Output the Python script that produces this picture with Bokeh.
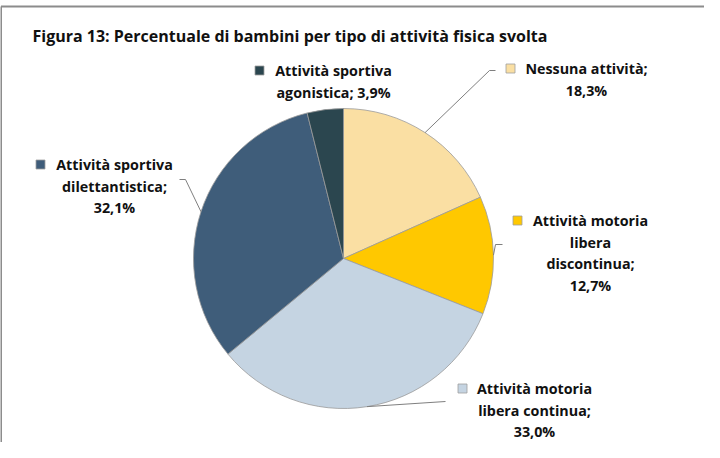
import math
from bokeh.plotting import figure
from bokeh.models import Range1d, ColumnDataSource
from bokeh.core.properties import value
from bokeh.embed import file_html
from bokeh.resources import INLINE

# ---- data ----
title_text = "Figura 13: Percentuale di bambini per tipo di attività fisica svolta"
categories = ["Nessuna attività", "Attività motoria libera discontinua",
              "Attività motoria libera continua", "Attività sportiva dilettantistica",
              "Attività sportiva agonistica"]
percent = [18.3, 12.7, 33.0, 32.1, 3.9]
colors = ["#FADFA3", "#FFC800", "#C5D4E2", "#3F5D7A", "#2B464F"]
# label line wrapping (as in the original)
label_lines = [
    ["Nessuna attività;", "{v}"],
    ["Attività motoria", "libera", "discontinua;", "{v}"],
    ["Attività motoria", "libera continua;", "{v}"],
    ["Attività sportiva", "dilettantistica;", "{v}"],
    ["Attività sportiva", "agonistica; {v}"],
]

# ---- layout (page pixel coordinates) ----
W, H = 704, 442
PAGE_H = 458
cx, cy, R = 351, 266, 150
FONT = value("Open Sans")
LBL_SIZE = "14.3px"
LINE_H = 21.5
# label anchor: (center x of text lines, y of first line, marker center x)
label_pos = [
    (594, 76, 518),
    (598, 228, 525),
    (542, 396, 470),
    (122, 172, 48),
    (341, 78, 267),
]
# leader lines: (elbow point, end point) in page coords, None = no leader
leaders = [
    ((497, 78), (503, 78)),
    ((503, 252), (510, 252)),
    ((453, 409), (453, 409)),
    ((193, 187), (187, 187)),
    None,
]


def Y(py):
    return PAGE_H - py


p = figure(width=W, height=H, x_range=Range1d(8, 8 + W), y_range=Range1d(PAGE_H - 8 - H, PAGE_H - 8),
           output_backend="svg", toolbar_location=None,
           x_axis_location=None, y_axis_location=None, min_border=0)
p.grid.visible = False
p.outline_line_color = None
p.background_fill_color = "white"
p.border_fill_color = "white"

# frame border
p.line([8.5, 8.5], [Y(14), Y(460)], line_color="#8C8C8C", line_width=2)
p.line([8.5, 720], [Y(14), Y(14)], line_color="#8C8C8C", line_width=2)

# title
p.text(x=[40], y=[Y(43)], text=[title_text], text_font=FONT, text_font_style="bold",
       text_font_size="16px", text_baseline="middle", text_align="left", text_color="#111111")

# pie wedges (clockwise from 12 o'clock)
total = sum(percent)
starts, ends, mids = [], [], []
cum = 0.0
for v in percent:
    a0 = math.pi / 2 - 2 * math.pi * (cum + v) / total
    a1 = math.pi / 2 - 2 * math.pi * cum / total
    starts.append(a0)
    ends.append(a1)
    mids.append((a0 + a1) / 2)
    cum += v
src = ColumnDataSource(dict(x=[cx] * len(percent), y=[Y(cy)] * len(percent),
                            s=starts, e=ends, c=colors))
p.wedge(x="x", y="y", radius=R, start_angle="s", end_angle="e", fill_color="c",
        line_color="#9A9A9A", line_width=0.8, source=src)

# leader lines
for i, ld in enumerate(leaders):
    if ld is None:
        continue
    sx = cx + R * math.cos(mids[i])
    sy = Y(cy) + R * math.sin(mids[i])
    (ex, ey), (fx, fy) = ld
    p.line([sx, ex, fx], [sy, Y(ey), Y(fy)], line_color="#7F7F7F", line_width=1)

# labels
for i, lines in enumerate(label_lines):
    vtxt = f"{percent[i]:.1f}".replace(".", ",") + "%"
    tx, ty, mx = label_pos[i]
    texts = [ln.format(v=vtxt) for ln in lines]
    ys = [Y(ty + k * LINE_H) for k in range(len(texts))]
    p.text(x=[tx] * len(texts), y=ys, text=texts, text_font=FONT, text_font_style="bold",
           text_font_size=LBL_SIZE, text_align="center", text_baseline="middle",
           text_color="#111111")
    p.rect(x=[mx], y=[Y(ty)], width=9, height=9, fill_color=colors[i],
           line_color="#A0A0A0", line_width=0.8)

open("out.html", "w").write(file_html(p, INLINE))
